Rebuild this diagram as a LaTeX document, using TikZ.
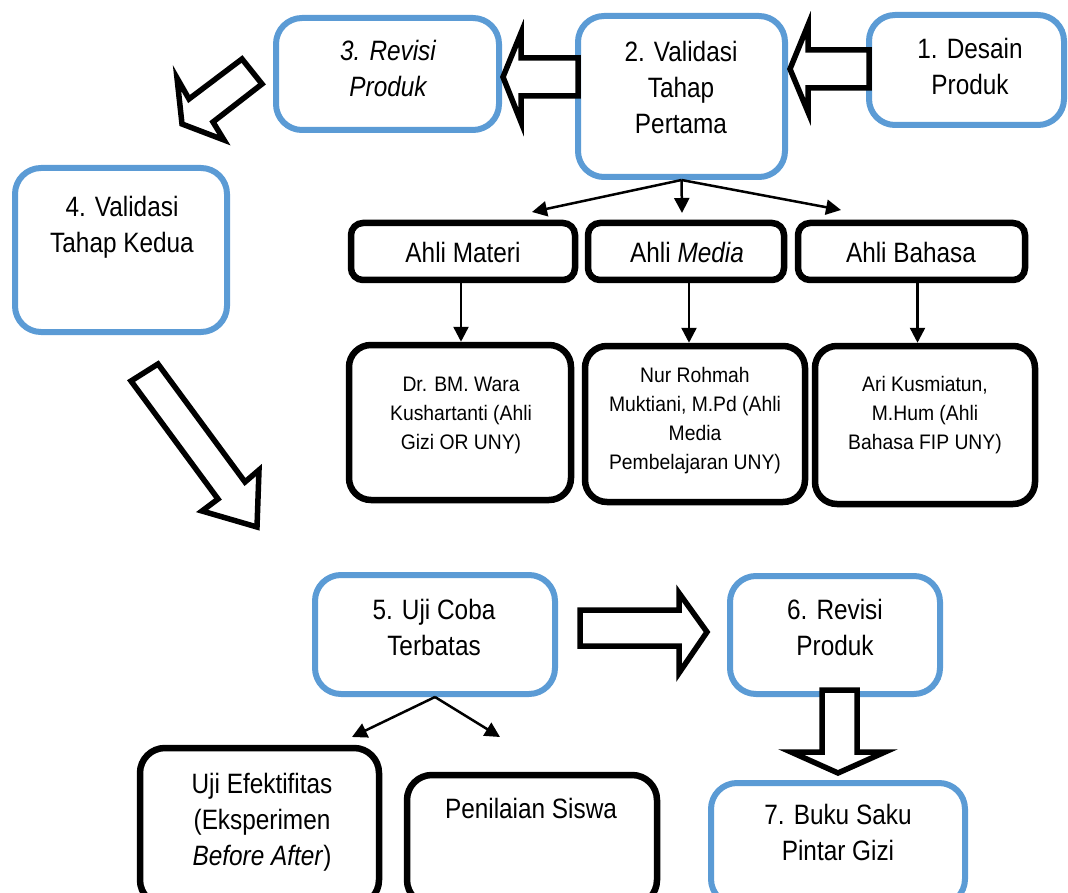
\documentclass[tikz,border=0pt]{standalone}
\usepackage{fontspec}
\setmainfont{Liberation Sans}[FakeStretch=0.87]
\newfontfamily\smallfont{Liberation Sans}[FakeStretch=0.92]
\usetikzlibrary{arrows.meta}
\definecolor{boxblue}{RGB}{91,155,213}
\begin{document}
\begin{tikzpicture}[x=1pt,y=-1pt,
  bluebox/.style={draw=boxblue, line width=6pt, fill=white, rounded corners=26pt, inner sep=0pt},
  blackbox/.style={draw=black, line width=6.5pt, fill=white, rounded corners=#1, inner sep=0pt},
  blackbox/.default=24pt,
  bigtext/.style={font=\fontsize{28}{36}\selectfont, align=center, inner sep=0pt, anchor=base},
  smalltext/.style={font=\smallfont\fontsize{21}{29}\selectfont, align=center, inner sep=0pt, anchor=base},
  blockarrow/.style={draw=black, line width=5.5pt, fill=white, line join=miter, miter limit=10},
  conn/.style={line width=2.5pt, -{Triangle[length=15pt,width=15pt]}}
]
\useasboundingbox (0,0) rectangle (1068,893);
\clip (0,0) rectangle (1068,893);

% blue boxes
\node[bluebox, minimum width=195pt, minimum height=110pt] (b1) at (966.5,70) {};
\node[bluebox, minimum width=207pt, minimum height=161pt] (b2) at (681.5,96.5) {};
\node[bluebox, minimum width=223pt, minimum height=112pt] (b3) at (387.5,74) {};
\node[bluebox, minimum width=212pt, minimum height=164pt] (b4) at (121,250) {};
\node[bluebox, minimum width=240pt, minimum height=119pt] (b5) at (435,634.5) {};
\node[bluebox, minimum width=210pt, minimum height=118pt] (b6) at (835,635) {};
\node[bluebox, minimum width=254pt, minimum height=122pt] (b7) at (838,844) {};

% black boxes
\node[blackbox=12pt, minimum width=224pt, minimum height=57pt] (am) at (463,251.5) {};
\node[blackbox=12pt, minimum width=196pt, minimum height=57pt] (amed) at (686,251.5) {};
\node[blackbox=12pt, minimum width=227pt, minimum height=57pt] (ab) at (911.5,251.5) {};
\node[blackbox=22pt, minimum width=222pt, minimum height=155pt] (dr) at (460,422.5) {};
\node[blackbox=22pt, minimum width=220pt, minimum height=156pt] (nr) at (695,424) {};
\node[blackbox=22pt, minimum width=220pt, minimum height=158pt] (ar) at (925,425) {};
\node[blackbox=25pt, minimum width=239pt, minimum height=157pt] (ue) at (259.5,826.5) {};
\node[blackbox=25pt, minimum width=250pt, minimum height=130pt] (ps) at (532,840) {};

% block arrows
\draw[blockarrow] (869,50) -- (808,50) -- (808,25) -- (790,69) -- (808,112) -- (808,88) -- (869,88) -- cycle;
\draw[blockarrow] (578,58) -- (521,58) -- (521,33) -- (503,77) -- (521,122) -- (521,96) -- (578,96) -- cycle;
\draw[blockarrow] (242,59) -- (262,84) -- (213,122) -- (224,140) -- (182,124) -- (177,78) -- (189,99) -- cycle;
\draw[blockarrow] (158,364) -- (245,482) -- (259,470) -- (257,527) -- (202,511) -- (218,499) -- (131,381) -- cycle;
\draw[blockarrow] (580,610) -- (679,610) -- (679,593) -- (707,632) -- (679,673) -- (679,646) -- (580,646) -- cycle;
\draw[blockarrow] (822,690) -- (857,690) -- (857,752) -- (885,752) -- (838,773) -- (791,752) -- (822,752) -- cycle;

% texts (anchor = baseline of last line)
\node[bigtext] (t1) at (970,95) {1. Desain\\Produk};
\node[bigtext] (t2) at (681,134) {2. Validasi\\Tahap\\Pertama};
\node[bigtext] (t3) at (388,97) {\itshape 3. Revisi\\\itshape Produk};
\node[bigtext] (t4) at (122,253) {4. Validasi\\Tahap Kedua};
\node[bigtext] (tam) at (463,263) {Ahli Materi};
\node[bigtext] (tamed) at (687,263) {Ahli \textit{Media}};
\node[bigtext] (tab) at (911,263) {Ahli Bahasa};
\node[smalltext] (tdr) at (461,449) {Dr. BM. Wara\\Kushartanti (Ahli\\Gizi OR UNY)};
\node[smalltext] (tnr) at (695,469) {Nur Rohmah\\Muktiani, M.Pd (Ahli\\Media\\Pembelajaran UNY)};
\node[smalltext] (tar) at (925,449) {Ari Kusmiatun,\\M.Hum (Ahli\\Bahasa FIP UNY)};
\node[bigtext] (t5) at (434,655) {5. Uji Coba\\Terbatas};
\node[bigtext] (t6) at (835,655) {6. Revisi\\Produk};
\node[bigtext] (t7) at (838,860) {7. Buku Saku\\Pintar Gizi};
\node[bigtext] (tue) at (262,865) {Uji Efektifitas\\(Eksperimen\\\textit{Before After})};
\node[bigtext] (tps) at (531,818) {Penilaian Siswa};

% thin connectors
\coordinate (e1) at (532,212);
\coordinate (e2) at (682,213);
\coordinate (e3) at (841,210);
\draw[conn] (b2.south) -- (e1);
\draw[conn] (b2.south) -- (e2);
\draw[conn] (b2.south) -- (e3);
\draw[conn] ([xshift=-2pt]am.south) -- ([xshift=-2pt]am.south |- dr.north);
\draw[conn] ([xshift=3pt]amed.south) -- ([xshift=3pt]amed.south |- nr.north);
\draw[conn] ([xshift=6pt]ab.south) -- ([xshift=6pt]ab.south |- ar.north);
\coordinate (e4) at (352,737);
\coordinate (e5) at (500,737);
\draw[conn] (b5.south) -- (e4);
\draw[conn] (b5.south) -- (e5);
\end{tikzpicture}
\end{document}
